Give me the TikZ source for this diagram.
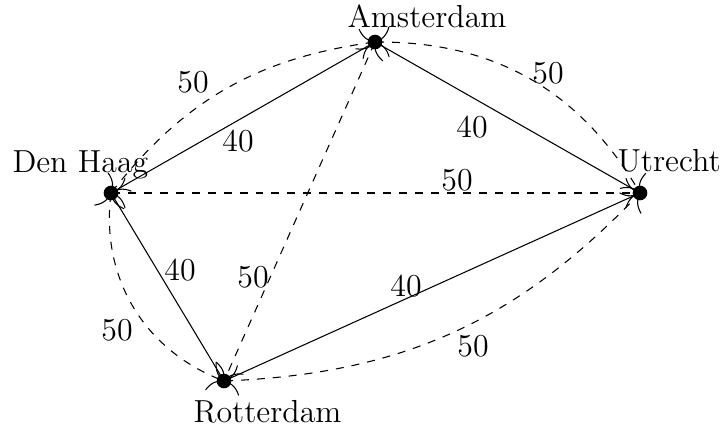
\documentclass[tikz,border=0pt]{standalone}
\usetikzlibrary{arrows.meta}
\begin{document}
\begin{tikzpicture}[x=0.013228cm,y=-0.013228cm,
  city/.style={circle,fill=black,inner sep=0pt,minimum size=5.5pt},
  cityname/.style={anchor=base west,inner sep=0pt,font=\fontsize{12}{14.4}\selectfont},
  wlabel/.style={inner sep=0pt,font=\fontsize{12}{14.4}\selectfont},
  road/.style={draw=black},
  ferry/.style={draw=black,dashed,{To[scale=2.2]}-{To[scale=2.2]}}]
\useasboundingbox (0,0) rectangle (720,428);
\node[city] (DH) at (111,193) {};
\node[city] (AM) at (375,42) {};
\node[city] (UT) at (640,193) {};
\node[city] (RO) at (224,381) {};
\node[cityname] (tAM) at (347,27) {Amsterdam};
\node[cityname] (tDH) at (12,172) {Den Haag};
\node[cityname] (tUT) at (617,171) {Utrecht};
\node[cityname] (tRO) at (193,422) {Rotterdam};
\draw[road] (DH.center) -- (AM.center);
\draw[road] (AM.center) -- (UT.center);
\draw[road] (DH.center) -- (RO.center);
\draw[road] (RO.center) -- (UT.center);
\draw[ferry] (DH.center) to[bend left=22] (AM.center);
\draw[ferry] (AM.center) to[bend left=30] (UT.center);
\draw[ferry] (DH.center) -- (UT.center);
\draw[ferry] (AM.center) -- (RO.center);
\draw[ferry] (DH.center) to[bend right=38] (RO.center);
\draw[ferry] (RO.center) to[bend right=22] (UT.center);
\node[wlabel] (l1) at (238,141) {40};
\node[wlabel] (l2) at (472,127) {40};
\node[wlabel] (l3) at (180,270) {40};
\node[wlabel] (l4) at (406,286) {40};
\node[wlabel] (l5) at (193,82) {50};
\node[wlabel] (l6) at (548,73) {50};
\node[wlabel] (l7) at (457,180) {50};
\node[wlabel] (l8) at (253,277) {50};
\node[wlabel] (l9) at (117,330) {50};
\node[wlabel] (l10) at (473,346) {50};
\end{tikzpicture}
\end{document}
